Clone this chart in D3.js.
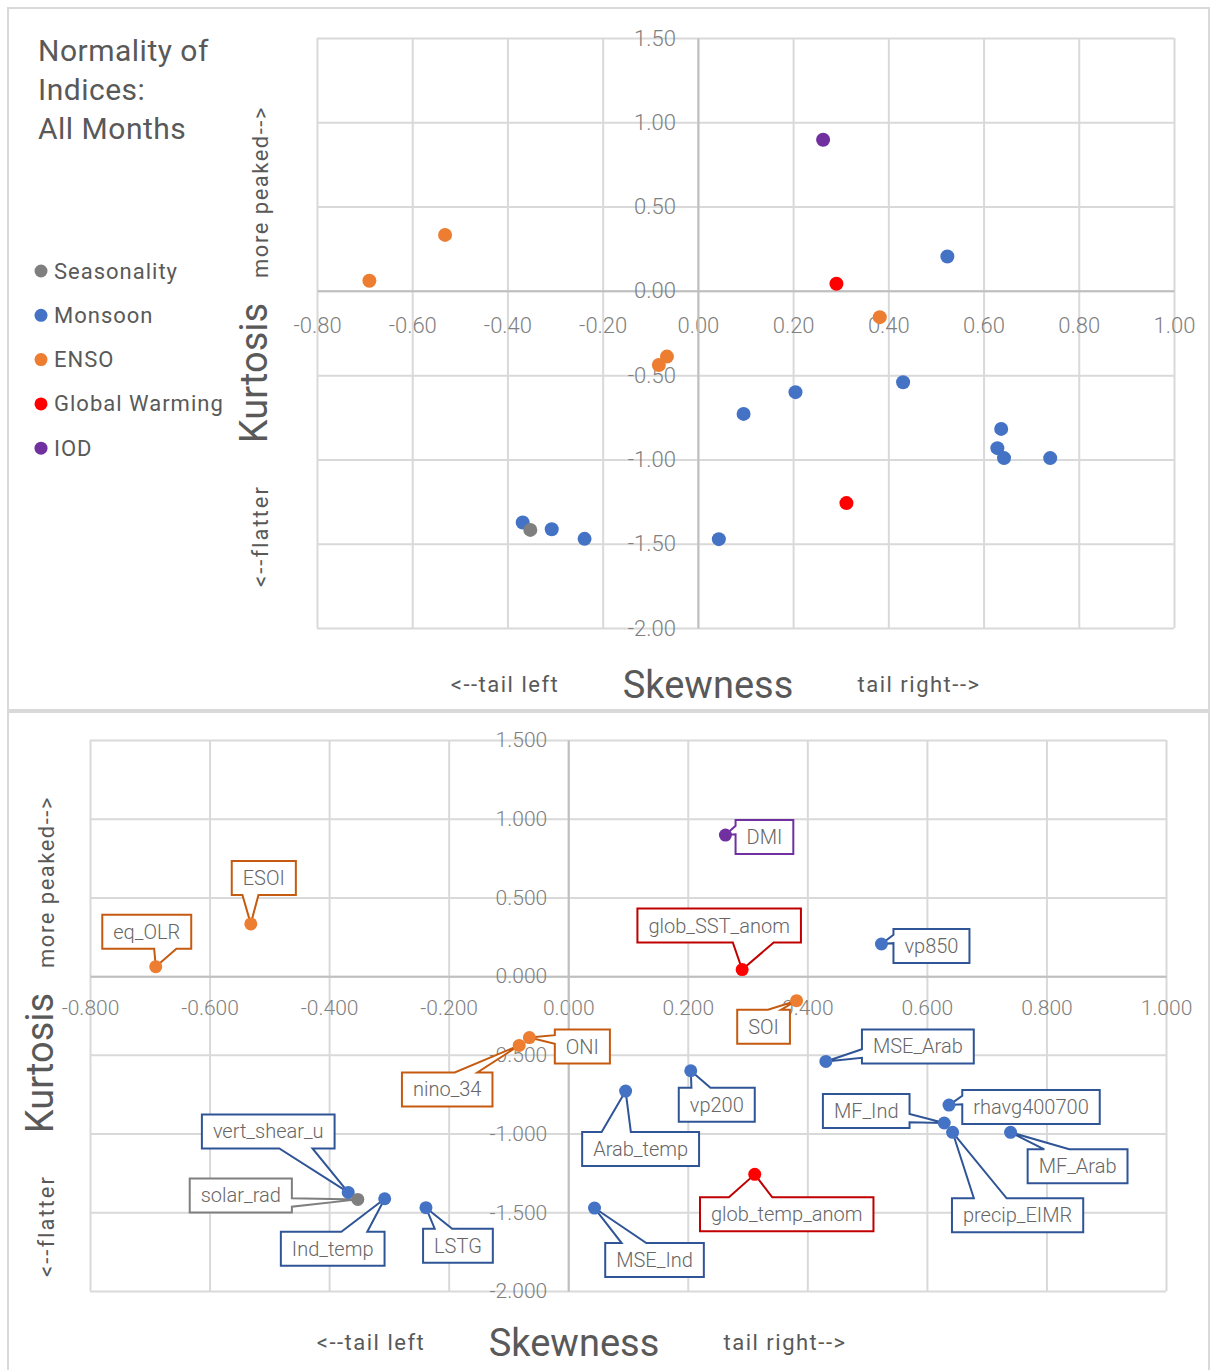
<!DOCTYPE html>
<html>
<head>
<meta charset="utf-8">
<script src="https://cdn.jsdelivr.net/npm/d3@7"></script>
<style>
  body { margin: 0; background: #fff; }
  text { font-family: Roboto, "Noto Sans", sans-serif; }
</style>
</head>
<body>
<svg id="chart" width="1217" height="1370"></svg>
<script>
// index names, the group they belong to, and their skewness / kurtosis
var names = ["vert_shear_u", "Ind_temp", "LSTG", "MSE_Ind", "Arab_temp", "vp200", "MSE_Arab",
  "vp850", "rhavg400700", "MF_Ind", "precip_EIMR", "MF_Arab", "solar_rad",
  "eq_OLR", "ESOI", "ONI", "nino_34", "SOI", "glob_SST_anom", "glob_temp_anom", "DMI"];
var groups = ["Monsoon", "Monsoon", "Monsoon", "Monsoon", "Monsoon", "Monsoon", "Monsoon",
  "Monsoon", "Monsoon", "Monsoon", "Monsoon", "Monsoon", "Seasonality",
  "ENSO", "ENSO", "ENSO", "ENSO", "ENSO", "Global Warming", "Global Warming", "IOD"];
var skewness = [-0.368, -0.307, -0.238, 0.044, 0.096, 0.205, 0.431,
  0.524, 0.637, 0.629, 0.643, 0.740, -0.352,
  -0.690, -0.531, -0.065, -0.082, 0.382, 0.291, 0.312, 0.263];
var kurtosis = [-1.374, -1.414, -1.471, -1.473, -0.730, -0.601, -0.542,
  0.204, -0.819, -0.933, -0.992, -0.992, -1.418,
  0.060, 0.332, -0.390, -0.440, -0.156, 0.042, -1.259, 0.896];

var groupNames = ["Seasonality", "Monsoon", "ENSO", "Global Warming", "IOD"];
var groupColors = ["#7f7f7f", "#4472c4", "#ed7d31", "#ff0000", "#7030a0"];
var labelBorders = ["#7f7f7f", "#2f5597", "#c55a11", "#c00000", "#7030a0"];

var xTicks = [-0.8, -0.6, -0.4, -0.2, 0, 0.2, 0.4, 0.6, 0.8, 1.0];
var yTicks = [-2.0, -1.5, -1.0, -0.5, 0, 0.5, 1.0, 1.5];

// where each callout box sits, relative to its point (pixels)
var calloutOffsets = [[-80, -61], [-52, 50], [32, 38], [60, 52], [15, 58], [26, 34], [92, -15],
  [50, 2], [82, 2], [-78, -12], [65, 83], [67, 34], [-117, -4],
  [-9, -35], [13, -46], [53, 9], [-72, 44], [-33, 26], [-23, -44], [32, 40], [39, 2]];

var data = names.map(function(n, i) {
  return {name: n, group: groups[i], x: skewness[i], y: kurtosis[i], off: calloutOffsets[i]};
});
var color = d3.scaleOrdinal().domain(groupNames).range(groupColors);
var border = d3.scaleOrdinal().domain(groupNames).range(labelBorders);

var svg = d3.select("#chart");
var textColor = "#595959";

// chart frames
svg.append("rect").attr("x", 8).attr("y", 8).attr("width", 1201).attr("height", 702)
  .attr("fill", "none").attr("stroke", "#d9d9d9").attr("stroke-width", 2);
svg.append("rect").attr("x", 8).attr("y", 712).attr("width", 1201).attr("height", 670)
  .attr("fill", "none").attr("stroke", "#d9d9d9").attr("stroke-width", 2);

function calloutPath(l, t, w, h, tx, ty) {
  var r = l + w, b = t + h, hc = l + w / 2, vc = t + h / 2;
  var dxPos = tx - hc, dyPos = ty - vc;
  var dz = Math.abs(dyPos) - Math.abs(dxPos * h / w);
  var x1 = l + w * (dxPos > 0 ? 7 : 2) / 12, x2 = l + w * (dxPos > 0 ? 10 : 5) / 12;
  var y1 = t + h * (dyPos > 0 ? 7 : 2) / 12, y2 = t + h * (dyPos > 0 ? 10 : 5) / 12;
  var xl = dz > 0 ? l : (dxPos > 0 ? l : tx);
  var yl = dz > 0 ? y1 : (dxPos > 0 ? y1 : ty);
  var xt = dz > 0 ? (dyPos > 0 ? x1 : tx) : x1;
  var yt = dz > 0 ? (dyPos > 0 ? t : ty) : t;
  var xr = dz > 0 ? r : (dxPos > 0 ? tx : r);
  var yr = dz > 0 ? y1 : (dxPos > 0 ? ty : y1);
  var xb = dz > 0 ? (dyPos > 0 ? tx : x1) : x1;
  var yb = dz > 0 ? (dyPos > 0 ? ty : b) : b;
  var pts = [[l, t], [x1, t], [xt, yt], [x2, t], [r, t], [r, y1], [xr, yr], [r, y2], [r, b],
    [x2, b], [xb, yb], [x1, b], [l, b], [l, y2], [xl, yl], [l, y1]];
  return d3.line()(pts) + "Z";
}

function drawPanel(o) {
  var x = d3.scaleLinear().domain([-0.8, 1.0]).range([o.left, o.right]);
  var y = d3.scaleLinear().domain([-2.0, 1.5]).range([o.bottom, o.top]);
  var fmt = function(v) { return d3.format(o.fmt)(v).replace("\u2212", "-"); };
  var g = svg.append("g");

  // gridlines
  g.append("g").attr("transform", "translate(0," + o.bottom + ")")
    .call(d3.axisBottom(x).tickValues(xTicks).tickSize(-(o.bottom - o.top)).tickFormat(""))
    .call(function(s) {
      s.select(".domain").remove();
      s.selectAll("line").attr("stroke", "#d9d9d9").attr("stroke-width", 2);
    });
  g.append("g").attr("transform", "translate(" + o.left + ",0)")
    .call(d3.axisLeft(y).tickValues(yTicks).tickSize(-(o.right - o.left)).tickFormat(""))
    .call(function(s) {
      s.select(".domain").remove();
      s.selectAll("line").attr("stroke", "#d9d9d9").attr("stroke-width", 2);
    });

  // axes crossing at zero
  g.append("g").attr("transform", "translate(0," + y(0) + ")")
    .call(d3.axisBottom(x).tickValues(xTicks).tickSize(0).tickPadding(o.xPad).tickSizeOuter(0)
      .tickFormat(fmt))
    .call(function(s) {
      s.select(".domain").attr("stroke", "#bfbfbf").attr("stroke-width", 2);
      s.selectAll("text").attr("fill", "#7f7f7f").style("font-size", o.tickSize + "px")
        .style("font-weight", 300).style("font-family", "Roboto, sans-serif");
    });
  g.append("g").attr("transform", "translate(" + x(0) + ",0)")
    .call(d3.axisLeft(y).tickValues(yTicks).tickSize(0).tickPadding(o.yPad).tickSizeOuter(0)
      .tickFormat(fmt))
    .call(function(s) {
      s.select(".domain").attr("stroke", "#bfbfbf").attr("stroke-width", 2);
      s.selectAll("text").attr("fill", "#7f7f7f").style("font-size", o.tickSize + "px")
        .style("font-weight", 300).style("font-family", "Roboto, sans-serif");
    });

  // callouts
  if (o.callouts) {
    var cg = g.append("g");
    data.forEach(function(d) {
      var px = x(d.x), py = y(d.y);
      var item = cg.append("g");
      var path = item.append("path");
      var t = item.append("text").text(d.name)
        .attr("fill", "#666").style("font-size", "20px").style("font-weight", 300)
        .attr("text-anchor", "middle").attr("dominant-baseline", "central")
        .attr("x", px + d.off[0]).attr("y", py + d.off[1]);
      var w = t.node().getComputedTextLength() + 22, h = 34;
      path.attr("d", calloutPath(px + d.off[0] - w / 2, py + d.off[1] - h / 2, w, h, px, py))
        .attr("fill", "#fff").attr("stroke", border(d.group)).attr("stroke-width", 2)
        .attr("stroke-linejoin", "miter");
    });
  }

  // points
  g.append("g").selectAll("circle").data(data).enter().append("circle")
    .attr("cx", function(d) { return x(d.x); })
    .attr("cy", function(d) { return y(d.y); })
    .attr("r", o.r)
    .attr("fill", function(d) { return color(d.group); });

  // axis titles
  g.append("text").attr("x", o.skewX).attr("y", o.titleY).attr("text-anchor", "middle")
    .attr("fill", textColor).style("font-size", "38px").text("Skewness");
  g.append("text").attr("x", o.skewX - 203).attr("y", o.titleY - 6).attr("text-anchor", "middle")
    .attr("fill", textColor).style("font-size", "22px").style("letter-spacing", "1.5px")
    .text("<--tail left");
  g.append("text").attr("x", o.skewX + 211).attr("y", o.titleY - 6).attr("text-anchor", "middle")
    .attr("fill", textColor).style("font-size", "22px").style("letter-spacing", "1.5px")
    .text("tail right-->");

  function vtext(tx, ty, size, str, ls) {
    g.append("text").attr("transform", "translate(" + tx + "," + ty + ") rotate(-90)")
      .attr("text-anchor", "middle").attr("fill", textColor)
      .style("font-size", size + "px").style("letter-spacing", ls + "px").text(str);
  }
  vtext(o.kurtX, o.kurtY, 38, "Kurtosis", 0);
  vtext(o.kurtX + 1, o.kurtY - 181, 22, "more peaked-->", 1.5);
  vtext(o.kurtX + 1, o.kurtY + 163, 22, "<--flatter", 2);
}

drawPanel({left: 317, right: 1174, top: 38, bottom: 628, fmt: ".2f", r: 7,
  tickSize: 22, xPad: 27, yPad: 22, callouts: false,
  skewX: 708, titleY: 698, kurtX: 267, kurtY: 373});
drawPanel({left: 90, right: 1166, top: 740, bottom: 1291, fmt: ".3f", r: 6.5,
  tickSize: 21, xPad: 24, yPad: 21, callouts: true,
  skewX: 574, titleY: 1356, kurtX: 53, kurtY: 1063});

// title
var title = svg.append("text").attr("x", 38).attr("y", 61).attr("fill", textColor)
  .style("font-size", "30px").style("letter-spacing", "0.5px");
["Normality of", "Indices:", "All Months"].forEach(function(s, i) {
  title.append("tspan").attr("x", 38).attr("dy", i === 0 ? 0 : 39).text(s);
});

// legend
var legend = svg.append("g").selectAll("g").data(groupNames).enter().append("g")
  .attr("transform", function(d, i) { return "translate(41," + (271 + i * 44.3) + ")"; });
legend.append("circle").attr("r", 6.5).attr("fill", function(d) { return color(d); });
legend.append("text").attr("x", 13).attr("dominant-baseline", "central")
  .attr("fill", textColor).style("font-size", "22px").style("letter-spacing", "1px")
  .text(function(d) { return d; });
</script>
</body>
</html>
